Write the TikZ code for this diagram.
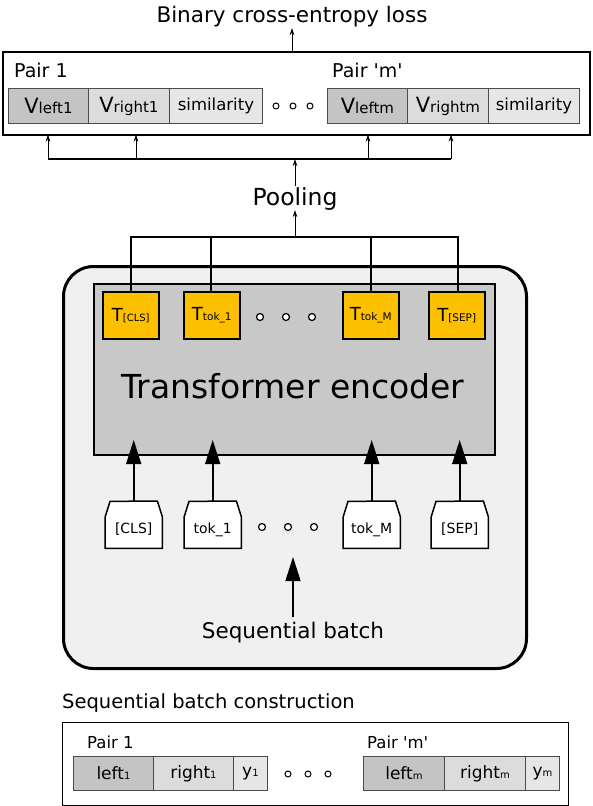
\documentclass[tikz,border=0pt]{standalone}
\usepackage{fontspec}
\setmainfont{DejaVu Sans}
\newfontfamily\nomapfont{DejaVu Sans}[Ligatures=ResetAll]
\usetikzlibrary{arrows.meta}
\definecolor{cellA}{HTML}{C4C4C4}
\definecolor{cellB}{HTML}{DCDCDC}
\definecolor{cellC}{HTML}{E6E6E6}
\definecolor{encfill}{HTML}{C8C8C8}
\definecolor{outerfill}{HTML}{F0F0F0}
\definecolor{torange}{HTML}{FCC000}
\newcommand{\fs}[1]{\fontsize{#1}{#1}\selectfont}
\newcommand{\sq}{{\nomapfont\char"27}}
\tikzset{
  cell/.style={draw=black!70, line width=0.9pt, minimum height=35pt, inner sep=0pt, anchor=north west},
  smallarr/.style={line width=0.9pt, -{Stealth[length=7pt,width=4.5pt]}},
  bigarr/.style={line width=1.6pt, -{Triangle[length=24pt,width=15pt]}},
  tbox/.style={draw, line width=1.5pt, fill=torange, minimum width=56pt, minimum height=47pt, inner sep=0pt, anchor=north west},
  tokbox/.style={minimum width=57pt, minimum height=47pt, inner sep=0pt, anchor=north west},
  tokline/.style={draw, line width=1.5pt, fill=white},
  toktext/.style={inner sep=0pt, anchor=base, font=\fs{14}},
  dotc/.style={draw, line width=1.2pt, fill=white, circle, inner sep=0pt, minimum size=7pt},
  plain/.style={inner sep=0pt},
}
\begin{document}
\begin{tikzpicture}[x=1pt,y=-1pt]
\useasboundingbox (0,0) rectangle (592,806);
% title
\node[plain, anchor=base] (bce) at (292,22) {\fs{21.5}Binary cross-entropy loss};
% top box
\node[draw, line width=2.6pt, minimum width=587pt, minimum height=83pt, inner sep=0pt, anchor=north west] (top) at (1.5,50.5) {};
\node[plain, anchor=base west] (p1) at (14,77) {\fs{19}Pair 1};
\node[plain, anchor=base west] (pm) at (332,77) {\fs{19}Pair \sq m\sq};
\node[cell, fill=cellA, minimum width=80pt] (vl1) at (8,88) {\fs{21}V\fs{15}left1};
\node[cell, fill=cellB, minimum width=81pt] (vr1) at (88,88) {\fs{21}V\fs{15}right1};
\node[cell, fill=cellC, minimum width=93pt] (s1) at (169,88) {\fs{16.5}similarity};
\node[cell, fill=cellA, minimum width=80pt] (vlm) at (327,88) {\fs{21}V\fs{15}leftm};
\node[cell, fill=cellB, minimum width=81pt] (vrm) at (407,88) {\fs{21}V\fs{15}rightm};
\node[cell, fill=cellC, minimum width=91pt] (sm) at (488,88) {\fs{16.5}similarity};
\node[dotc, minimum size=6pt, line width=1pt] (d1) at (276,106) {};
\node[dotc, minimum size=6pt, line width=1pt] (d2) at (293,106) {};
\node[dotc, minimum size=6pt, line width=1pt] (d3) at (310,106) {};
\draw[smallarr] (top.north -| bce) -- (bce.south |- 0,28);
% pooling
\node[plain, anchor=base] (pool) at (295,205) {\fs{23.5}Pooling};
\coordinate (hb) at (295,159);
\draw[line width=1.2pt] (48,159) -- (451,159);
\foreach \x in {48,136,368,451} \draw[smallarr] (\x,159) -- (\x,134.5);
\draw[smallarr] (pool.north) ++(0,-1) -- (hb);
% outer rounded box
\node[draw, line width=3pt, fill=outerfill, rounded corners=30pt, minimum width=463pt, minimum height=402pt, inner sep=0pt, anchor=north west] (outer) at (62,265) {};
% encoder
\node[draw, line width=2pt, fill=encfill, minimum width=401pt, minimum height=171pt, inner sep=0pt, anchor=north west] (enc) at (93,282.5) {};
\node[plain, anchor=base] (enct) at (293,398) {\fs{33}Transformer encoder};
% T boxes
\node[tbox] (tcls) at (102,291) {\fs{18}T\fs{10}[CLS]};
\node[tbox] (ttok1) at (183,291) {\fs{18}T\fs{10.5}tok\_1};
\node[tbox] (ttokm) at (342,291) {\fs{18}T\fs{10.5}tok\_M};
\node[tbox] (tsep) at (428,291) {\fs{18}T\fs{10.5}[SEP]};
\node[dotc] (e1) at (260,317) {};
\node[dotc] (e2) at (286,317) {};
\node[dotc] (e3) at (312,317) {};
% pooling connectors
\draw[line width=1.3pt] (tcls.north -| 131,0) |- (pool.south |- 0,237) -| (ttok1.north -| 211,0);
\draw[line width=1.3pt] (pool.south |- 0,237) -| (ttokm.north -| 371,0);
\draw[line width=1.3pt] (371,237) -| (tsep.north -| 458,0);
\draw[smallarr] (295,237) -- (pool.south);
% token boxes
\foreach \nm/\x/\lab in {kcls/105/{[CLS]}, ktok1/184/{tok\_1}, ktokm/343/{tok\_M}, ksep/431/{[SEP]}}{
  \node[tokbox] (\nm) at (\x,501) {};
  \draw[tokline] (\nm.south west) -- ++(0,-31) -- ++(5,-16) -- ([xshift=-5pt]\nm.north east) -- ++(5,16) -- (\nm.south east) -- cycle;
  \node[toktext] (\nm t) at ([yshift=-8.5pt]\nm.center) {\lab};
}
\node[dotc] (f1) at (262,527) {};
\node[dotc] (f2) at (288,527) {};
\node[dotc] (f3) at (314,527) {};
\draw[bigarr] (kcls.north) -- (kcls.north |- 0,440);
\draw[bigarr] (ktok1.north) -- (ktok1.north |- 0,440);
\draw[bigarr] (ktokm.north) -- (ktokm.north |- 0,440);
\draw[bigarr] (ksep.north) -- (ksep.north |- 0,440);
% sequential batch
\node[plain, anchor=base] (sb) at (293,638) {\fs{21.5}Sequential batch};
\draw[bigarr] (sb.north) ++(0,-4) -- (293,557);
% bottom
\node[plain, anchor=base west] (sbc) at (62,708) {\fs{19.5}Sequential batch construction};
\node[draw, line width=1.3pt, minimum width=506pt, minimum height=83pt, inner sep=0pt, anchor=north west] (bot) at (62,722) {};
\node[plain, anchor=base west] (bp1) at (87,748) {\fs{16.5}Pair 1};
\node[plain, anchor=base west] (bpm) at (367,748) {\fs{16.5}Pair \sq m\sq};
\node[cell, fill=cellA, minimum width=80pt, minimum height=34pt] (l1) at (73,756) {\fs{17}left\fs{10}1};
\node[cell, fill=cellB, minimum width=80pt, minimum height=34pt] (r1) at (153,756) {\fs{17}right\fs{10}1};
\node[cell, fill=cellC, minimum width=34pt, minimum height=34pt] (y1) at (233,756) {\fs{17}y\fs{10}1};
\node[cell, fill=cellA, minimum width=81pt, minimum height=34pt] (lm) at (363,756) {\fs{17}left\fs{10}m};
\node[cell, fill=cellB, minimum width=81pt, minimum height=34pt] (rm) at (444,756) {\fs{17}right\fs{10}m};
\node[cell, fill=cellC, minimum width=34pt, minimum height=34pt] (ym) at (525,756) {\fs{17}y\fs{10}m};
\node[dotc, minimum size=6pt, line width=1pt] (g1) at (288,774) {};
\node[dotc, minimum size=6pt, line width=1pt] (g2) at (308,774) {};
\node[dotc, minimum size=6pt, line width=1pt] (g3) at (328,774) {};
\end{tikzpicture}
\end{document}
